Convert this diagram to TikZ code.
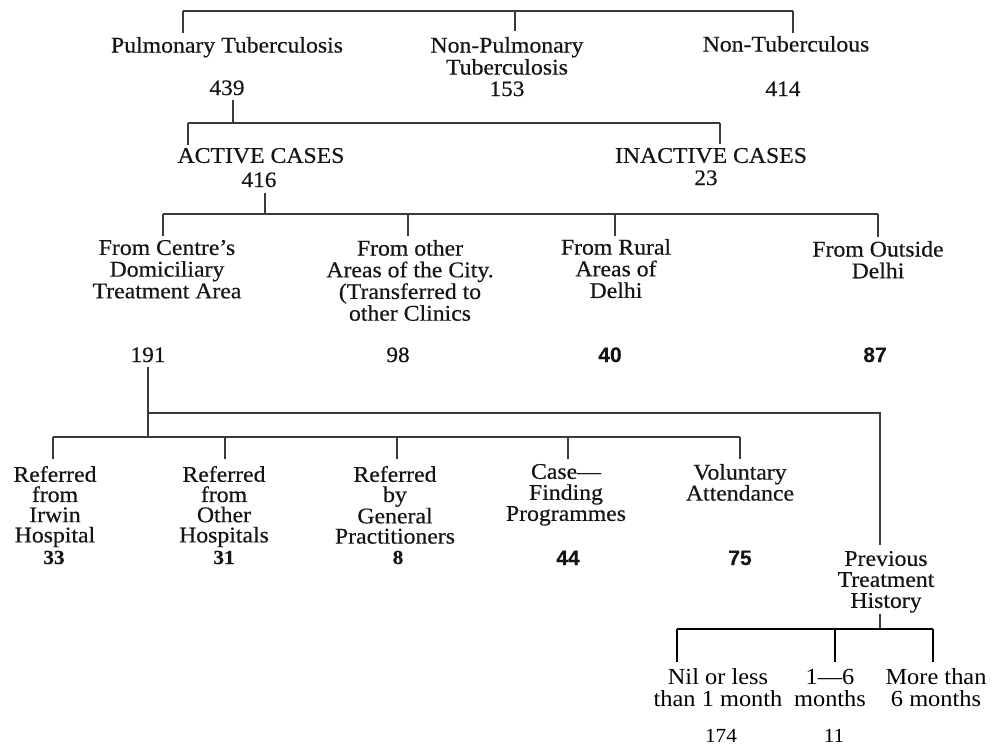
\documentclass[tikz,border=0pt]{standalone}
\usepackage{fontspec}
\setmainfont{Liberation Serif}
\newfontfamily\scanfont{Liberation Serif}[FakeBold=0.45, FakeStretch=1.06]
\newfontfamily\sansnum{Liberation Sans}[FakeBold=0.2]
\newfontfamily\timesfont{Liberation Serif}[FakeStretch=1.06]
\definecolor{ink}{HTML}{151515}
\definecolor{linec}{HTML}{3A3A3A}
\tikzset{
  lbl/.style={inner sep=0pt, outer sep=0pt, align=center, anchor=north, text=ink,
    font=\scanfont\fontsize{22.4}{21.7}\selectfont},
  lblsm/.style={lbl, font=\scanfont\fontsize{22.4}{20.2}\selectfont},
  lblmd/.style={lbl, font=\scanfont\fontsize{22.4}{21}\selectfont},
  num/.style={inner sep=0pt, outer sep=0pt, anchor=base, text=ink,
    font=\scanfont\fontsize{22}{22}\selectfont},
  numb/.style={num, font=\scanfont\bfseries\fontsize{20}{20}\selectfont},
  nums/.style={num, font=\sansnum\bfseries\fontsize{21}{21}\selectfont},
  tlbl/.style={inner sep=0pt, outer sep=0pt, align=center, anchor=north, text=black,
    font=\timesfont\fontsize{23}{22}\selectfont},
  tnum/.style={inner sep=0pt, outer sep=0pt, anchor=base, text=black,
    font=\timesfont\fontsize{20}{20}\selectfont},
  conn/.style={draw=linec, line width=1.2pt},
  connb/.style={draw=black, line width=1.6pt},
}
\begin{document}
\begin{tikzpicture}[x=1pt, y=-1pt]
\useasboundingbox (0,0) rectangle (996,745);

% ---------- level 1 ----------
\node[lbl] (pt)  at (227,37) {Pulmonary Tuberculosis};
\node[lbl] (npt) at (507,37) {Non-Pulmonary\\[0.3pt]Tuberculosis};
\node[lbl] (nt)  at (786,36) {Non-Tuberculous};
\node[num] (n439) at (227,95) {439};
\node[num] (n153) at (507,96) {153};
\node[num] (n414) at (783,96) {414};

\coordinate (b1l) at (183,11);
\coordinate (b1m) at (515,11);
\coordinate (b1r) at (793,11);
\draw[conn] (b1l) -- (b1r);
\draw[conn, shorten >=4pt] (b1l) -- (b1l |- pt.north);
\draw[conn, shorten >=6pt] (b1m) -- (b1m |- npt.north);
\draw[conn, shorten >=3pt] (b1r) -- (b1r |- nt.north);

% ---------- level 2 ----------
\node[lbl] (act)   at (261,148) {ACTIVE CASES};
\node[num] (n416)  at (259,187) {416};
\node[lbl] (inact) at (711,148) {INACTIVE CASES};
\node[num] (n23)   at (706,185) {23};

\coordinate (c439) at (233,123);
\draw[conn, shorten <=5pt] (c439 |- n439.south) -- (c439);
\coordinate (b2l) at (188,123);
\coordinate (b2r) at (720,123);
\draw[conn] (b2l) -- (b2r);
\draw[conn, shorten >=3pt] (b2l) -- (b2l |- act.north);
\draw[conn, shorten >=4pt] (b2r) -- (b2r |- inact.north);

% ---------- level 3 ----------
\node[lbl] (centre)  at (167,240) {From Centre’s\\Domiciliary\\Treatment Area};
\node[lbl] (other)   at (410,240) {From other\\Areas of the City.\\(Transferred to\\other Clinics};
\node[lbl] (rural)   at (616,239) {From Rural\\Areas of\\Delhi};
\node[lbl] (outside) at (878,241) {From Outside\\Delhi};
\node[num]  (n191) at (148,362) {191};
\node[num]  (n98)  at (398,362) {98};
\node[nums] (n40)  at (610,362) {40};
\node[nums] (n87)  at (875,362) {87};

\coordinate (c416) at (265,214);
\draw[conn, shorten <=6pt] (c416 |- n416.south) -- (c416);
\coordinate (b3l) at (163,214);
\coordinate (b3a) at (408,214);
\coordinate (b3b) at (615,214);
\coordinate (b3r) at (878,214);
\draw[conn] (b3l) -- (b3r);
\draw[conn, shorten >=4pt] (b3l) -- (b3l |- centre.north);
\draw[conn, shorten >=4pt] (b3a) -- (b3a |- other.north);
\draw[conn, shorten >=3pt] (b3b) -- (b3b |- rural.north);
\draw[conn, shorten >=4pt] (b3r) -- (b3r |- outside.north);

% ---------- level 4 ----------
\node[lblsm] (irwin)  at (55,466)  {Referred\\from\\Irwin\\Hospital};
\node[lblsm] (ohosp)  at (224,466) {Referred\\from\\Other\\Hospitals};
\node[lblsm] (gp)     at (395,466) {Referred\\by\\General\\Practitioners};
\node[lblmd] (case)   at (566,464) {Case—\\Finding\\Programmes};
\node[lblmd] (vol)    at (740,464) {Voluntary\\Attendance};
\node[lblmd] (prev)   at (886,551) {Previous\\Treatment\\History};
\node[numb] (n33) at (54,564)  {33};
\node[numb] (n31) at (224,564) {31};
\node[numb] (n8)  at (398,564) {8};
\node[nums] (n44) at (568,565) {44};
\node[nums] (n75) at (740,565) {75};

\coordinate (c191) at (148,437);
\coordinate (j191) at (148,413);
\coordinate (jr)   at (880,413);
\draw[conn, shorten <=5pt] (c191 |- n191.south) -- (c191);
\draw[conn, shorten >=6pt] (j191) -- (jr) -- (jr |- prev.north);
\coordinate (b4l) at (53,437);
\coordinate (b4b) at (225,437);
\coordinate (b4c) at (397,437);
\coordinate (b4d) at (568,437);
\coordinate (b4r) at (740,437);
\draw[conn] (b4l) -- (b4r);
\draw[conn, shorten >=7pt] (b4l) -- (b4l |- irwin.north);
\draw[conn, shorten >=7pt] (b4b) -- (b4b |- ohosp.north);
\draw[conn, shorten >=7pt] (b4c) -- (b4c |- gp.north);
\draw[conn, shorten >=5pt] (b4d) -- (b4d |- case.north);
\draw[conn, shorten >=5pt] (b4r) -- (b4r |- vol.north);

% ---------- level 5 ----------
\node[tlbl] (nil)  at (718,669) {Nil or less\\than 1 month};
\node[tlbl] (m16)  at (830,669) {1—6\\months};
\node[tlbl] (more) at (936,669) {More than\\6 months};
\node[tnum] (n174) at (721,742) {174};
\node[tnum] (n11)  at (834,742) {11};

\coordinate (c5) at (880,629);
\draw[conn, shorten <=1pt] (c5 |- prev.south) -- (c5);
\coordinate (b5l) at (677,629);
\coordinate (b5m) at (835,629);
\coordinate (b5r) at (933,629);
\draw[connb] (b5l) -- (b5r);
\draw[connb, shorten >=7pt] (b5l) -- (b5l |- nil.north);
\draw[connb, shorten >=7pt] (b5m) -- (b5m |- m16.north);
\draw[connb, shorten >=7pt] (b5r) -- (b5r |- more.north);
\end{tikzpicture}
\end{document}
